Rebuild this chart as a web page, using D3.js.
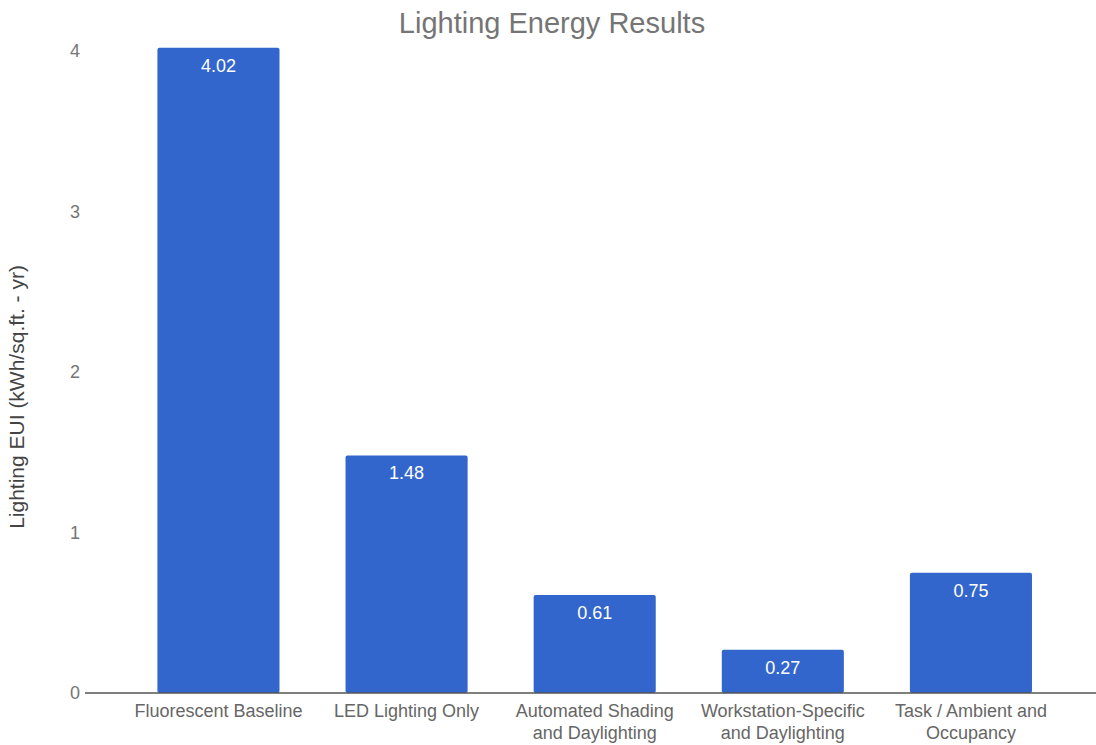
<!DOCTYPE html>
<html>
<head>
<meta charset="utf-8">
<script src="https://cdn.jsdelivr.net/npm/d3@7"></script>
<style>
  html, body { margin: 0; padding: 0; background: #fff; }
  svg { display: block; font-family: "Liberation Sans", Arial, sans-serif; }
</style>
</head>
<body>
<svg id="chart" width="1096" height="745"></svg>
<script>
// Lighting EUI per scenario (kWh/sq.ft. - yr)
const categories = [
  ["Fluorescent Baseline"],
  ["LED Lighting Only"],
  ["Automated Shading", "and Daylighting"],
  ["Workstation-Specific", "and Daylighting"],
  ["Task / Ambient and", "Occupancy"]
];
const values = [4.02, 1.48, 0.61, 0.27, 0.75];
const yTicks = [0, 1, 2, 3, 4];
const titleText = "Lighting Energy Results";
const yTitle = "Lighting EUI (kWh/sq.ft. - yr)";

const svg = d3.select("#chart");
const W = 1096, H = 745;
const plot = { left: 124.4, right: 1065, top: 51, bottom: 693 };

const keys = categories.map(c => c.join(" "));
const x = d3.scaleBand()
  .domain(keys)
  .range([plot.left, plot.right])
  .paddingInner(0.351)
  .paddingOuter(0.1755);

const y = d3.scaleLinear()
  .domain([0, 4])
  .range([plot.bottom, plot.top]);

// Title
svg.append("text")
  .attr("x", 552)
  .attr("y", 33)
  .attr("text-anchor", "middle")
  .attr("fill", "#757575")
  .attr("font-size", 29)
  .text(titleText);

// Y axis tick labels
const yAxis = d3.axisLeft(y).tickValues(yTicks).tickFormat(d3.format("d")).tickSize(0).tickPadding(0);
const yg = svg.append("g").attr("transform", "translate(80,0)").call(yAxis);
yg.select(".domain").remove();
yg.selectAll("text")
  .attr("fill", "#757575")
  .attr("font-size", 18)
  .attr("font-family", "Liberation Sans, Arial, sans-serif");

// Y axis title
svg.append("text")
  .attr("transform", "translate(24,397) rotate(-90)")
  .attr("text-anchor", "middle")
  .attr("fill", "#444")
  .attr("font-size", 21)
  .text(yTitle);

// Bars
const bars = svg.append("g");
bars.selectAll("rect")
  .data(values)
  .join("rect")
  .attr("x", (d, i) => x(keys[i]))
  .attr("width", x.bandwidth())
  .attr("y", d => y(d))
  .attr("height", d => y(0) - y(d))
  .attr("rx", 2)
  .attr("fill", "#3366cc");

// Value labels inside the bars
bars.selectAll("text")
  .data(values)
  .join("text")
  .attr("x", (d, i) => x(keys[i]) + x.bandwidth() / 2)
  .attr("y", d => y(d) + 24)
  .attr("text-anchor", "middle")
  .attr("fill", "#ffffff")
  .attr("font-size", 18)
  .text(d => d3.format(".2f")(d));

// Baseline
svg.append("line")
  .attr("x1", 85).attr("x2", W)
  .attr("y1", y(0)).attr("y2", y(0))
  .attr("stroke", "#555")
  .attr("stroke-width", 1.5);

// Category labels
const cat = svg.append("g");
categories.forEach((lines, i) => {
  const t = cat.append("text")
    .attr("x", x(keys[i]) + x.bandwidth() / 2)
    .attr("y", 717)
    .attr("text-anchor", "middle")
    .attr("fill", "#666")
    .attr("font-size", 18);
  lines.forEach((ln, j) => {
    t.append("tspan")
      .attr("x", x(keys[i]) + x.bandwidth() / 2)
      .attr("dy", j === 0 ? 0 : 22)
      .text(ln);
  });
});
</script>
</body>
</html>
